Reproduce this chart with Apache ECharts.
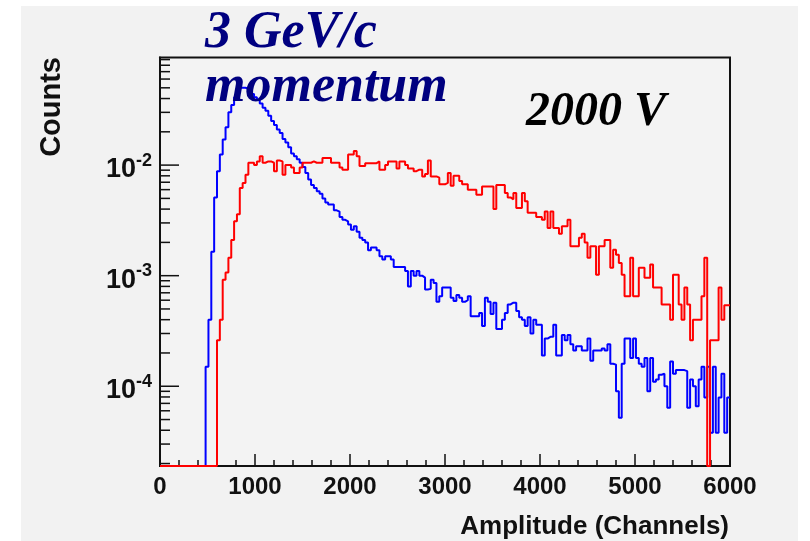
<!DOCTYPE html>
<html><head><meta charset="utf-8">
<script src="https://cdn.jsdelivr.net/npm/echarts@6/dist/echarts.min.js"></script>
<style>
html,body{margin:0;padding:0;background:#fff;}
#wrap{position:relative;width:810px;height:541px;overflow:hidden;background:#fff;}
#panel{position:absolute;left:21px;top:6px;width:777px;height:535px;background:#f2f2f2;}
#chart{position:absolute;left:0;top:0;width:810px;height:541px;}
</style></head><body>
<div id="wrap"><div id="panel"></div><div id="chart"></div></div>
<script>
// ---- data ----
const BIN_WIDTH = 30;            // channels per bin, 200 bins from 0 to 6000
const X_MIN = 0, X_MAX = 6000;
const Y_MIN = 1.9e-5, Y_MAX = 0.094;
const xTickLabels = ['0', '1000', '2000', '3000', '4000', '5000', '6000'];
const yTickValues = [1e-4, 1e-3, 1e-2];
const yTickExponents = ['-4', '-3', '-2'];

const blueCounts = [
  0,0,0,0,0,0,0,0,0,0,
  0,0,0,0,0,0,0.00015,0.0004,0.00165,0.0051,
  0.0088,0.0125,0.017,0.022,0.030,0.035,0.041,0.046,0.050,0.050,
  0.049,0.046,0.044,0.041,0.039,0.036,0.033,0.031,0.028,0.025,
  0.023,0.021,0.0195,0.0172,0.016,0.0145,0.0127,0.012,0.0113,0.0105,
  0.0096,0.0085,0.0074,0.0066,0.0062,0.0058,0.0055,0.0050,0.0046,0.0044,
  0.0044,0.0039,0.0038,0.0034,0.0032,0.0031,0.0029,0.0026,0.0028,0.0025,
  0.0022,0.0021,0.0020,0.0017,0.0018,0.0018,0.0017,0.0015,0.0014,0.0015,
  0.0015,0.0014,0.0012,0.0012,0.0012,0.0012,0.0011,0.0008,0.0011,0.0010,
  0.0011,0.0010,0.00096,0.00075,0.00076,0.00092,0.00086,0.00058,0.00065,0.00078,
  0.00078,0.00078,0.00063,0.00059,0.00067,0.00063,0.00058,0.0006,0.00065,0.00043,
  0.00043,0.00043,0.00046,0.00035,0.00063,0.00058,0.00045,0.00057,0.00033,0.00033,
  0.0004,0.00046,0.00055,0.00057,0.00057,0.00048,0.00042,0.0004,0.00035,0.00042,
  0.0003,0.0004,0.00036,0.00036,0.00019,0.00027,0.00028,0.00028,0.00036,0.00019,
  0.00019,0.00029,0.00026,0.00029,0.00024,0.00021,0.00023,0.00023,0.00021,0.00021,
  0.00027,0.00017,0.00021,0.00021,0.00021,0.00022,0.00021,0.00024,0.00016,0.000157,
  0.00009,0.000052,0.00016,0.00027,0.00027,0.00018,0.00027,0.00018,0.00016,0.00015,
  0.00018,0.00009,0.00018,0.00011,0.000115,0.000127,0.00013,0.0001,0.000064,0.000167,
  0.00013,0.00014,0.00014,0.00014,0.000137,0.000064,0.000115,0.0001,0.000066,0.000115,
  0.00015,0.000079,0.00015,0.000038,0.00015,0.000038,0.000079,0.00013,0.000038,0.000079
];

const redCounts = [
  0,0,0,0,0,0,0,0,0,0,
  0,0,0,0,0,0,0,0,0,0,
  0.00026,0.0004,0.00092,0.00107,0.00145,0.0021,0.0031,0.0036,0.0062,0.0069,
  0.0082,0.0105,0.0105,0.0100,0.0108,0.0120,0.0105,0.0108,0.0108,0.0105,
  0.0088,0.0110,0.0108,0.0082,0.0100,0.0100,0.0095,0.0085,0.0085,0.0095,
  0.0105,0.0105,0.0105,0.0108,0.0105,0.0105,0.0105,0.0116,0.0116,0.0116,
  0.0105,0.0105,0.0105,0.0095,0.0091,0.0091,0.0125,0.0125,0.0134,0.0120,
  0.0098,0.0098,0.0104,0.0104,0.0104,0.0104,0.0108,0.0091,0.0091,0.0100,
  0.0108,0.0108,0.0108,0.0093,0.0108,0.0108,0.0100,0.0093,0.0093,0.0088,
  0.0091,0.0091,0.0079,0.0083,0.0110,0.0079,0.0079,0.0077,0.0067,0.0067,
  0.0069,0.0085,0.0065,0.0080,0.0080,0.0072,0.0067,0.0067,0.0060,0.0060,
  0.0060,0.0054,0.0054,0.0064,0.0064,0.0064,0.0064,0.0040,0.0066,0.0066,
  0.0066,0.0056,0.0051,0.0049,0.0056,0.0041,0.0041,0.0056,0.0047,0.0037,
  0.0037,0.0037,0.0034,0.0034,0.0032,0.0038,0.0027,0.0038,0.0027,0.0027,
  0.0024,0.0028,0.0028,0.0032,0.00185,0.00185,0.00185,0.0022,0.0024,0.0020,
  0.00145,0.00185,0.00185,0.00102,0.00185,0.00185,0.0021,0.0021,0.00118,0.00172,
  0.00155,0.0013,0.00102,0.00065,0.00065,0.00145,0.00065,0.00065,0.00118,0.00118,
  0.00096,0.00096,0.00126,0.00078,0.00078,0.00078,0.00055,0.00055,0.00055,0.0004,
  0.00102,0.00102,0.00055,0.0004,0.00078,0.00055,0.00026,0.0004,0.0004,0.0004,
  0.00065,0.00145,0,0.00026,0.00026,0.00026,0.00078,0.0004,0.00054,0.00054
];

// ---- build ----
const SANS = '"Liberation Sans", Arial, Helvetica, sans-serif';
const SERIF = '"Liberation Serif", "Times New Roman", serif';

function histPoints(counts) {
  // empty bins sit on the bottom of the log frame, as ROOT draws them
  const pts = counts.map((v, i) => [i * BIN_WIDTH, v > 0 ? v : Y_MIN]);
  const last = counts[counts.length - 1];
  pts.push([counts.length * BIN_WIDTH, last > 0 ? last : Y_MIN]);
  return pts;
}

// y tick values (major decades + 2..9 minor)
const yTicks = [];
for (let e = -5; e <= -1; e++) {
  for (let m = 1; m <= 9; m++) {
    const v = m * Math.pow(10, e);
    if (v >= Y_MIN && v <= Y_MAX) yTicks.push([X_MIN, v, m === 1 ? 1 : 0]);
  }
}

const chart = echarts.init(document.getElementById('chart'), null, {renderer: 'canvas'});
chart.setOption({
  backgroundColor: 'transparent',
  animation: false,
  grid: {
    left: 160, right: 80, top: 57.5, bottom: 75,
    show: true, backgroundColor: '#f3f3f3', borderColor: '#111', borderWidth: 2
  },
  xAxis: {
    type: 'value', min: X_MIN, max: X_MAX, interval: 1000,
    axisLine: {show: true, onZero: false, lineStyle: {color: '#111', width: 2}},
    axisTick: {show: true, inside: true, length: 12, lineStyle: {color: '#111', width: 1.5}},
    minorTick: {show: true, splitNumber: 5, length: 6, lineStyle: {color: '#111', width: 1.5}},
    splitLine: {show: false},
    axisLabel: {
      margin: 9, color: '#111', fontFamily: SANS, fontWeight: 'bold', fontSize: 24,
      formatter: (v) => { const i = Math.round(v / 1000); return xTickLabels[i] !== undefined ? xTickLabels[i] : ''; }
    }
  },
  yAxis: {
    type: 'log', min: Y_MIN, max: Y_MAX, logBase: 10,
    axisLine: {show: true, lineStyle: {color: '#111', width: 2}},
    axisTick: {show: false},
    splitLine: {show: false},
    axisLabel: {
      margin: 8, showMinLabel: false, showMaxLabel: false,
      formatter: (v) => {
        const lg = Math.log10(v);
        const e = Math.round(lg);
        if (Math.abs(lg - e) > 1e-6) return '';
        const idx = yTickValues.findIndex(t => Math.abs(Math.log10(t) - e) < 1e-6);
        if (idx < 0) return '';
        return '{b|10}{s|' + yTickExponents[idx] + '}';
      },
      rich: {
        b: {fontFamily: SANS, fontWeight: 'bold', fontSize: 27, lineHeight: 27, color: '#111',
            padding: [9, 0, 0, 0]},
        s: {fontFamily: SANS, fontWeight: 'bold', fontSize: 18, lineHeight: 26, color: '#111',
            verticalAlign: 'top'}
      }
    }
  },
  series: [
    {
      type: 'custom', name: 'yticks', data: yTicks, clip: false, silent: true, z: 3,
      encode: {x: 0, y: 1},
      renderItem: (params, api) => {
        const p = api.coord([api.value(0), api.value(1)]);
        const len = api.value(2) === 1 ? 19 : 10;
        return {type: 'line', shape: {x1: p[0], y1: p[1], x2: p[0] + len, y2: p[1]},
                style: {stroke: '#111', lineWidth: 1.5}};
      }
    },
    {
      type: 'line', name: 'blue', data: histPoints(blueCounts), step: 'end',
      showSymbol: false, symbol: 'none', clip: true, z: 4,
      lineStyle: {color: '#0000ff', width: 2}
    },
    {
      type: 'line', name: 'red', data: histPoints(redCounts), step: 'end',
      showSymbol: false, symbol: 'none', clip: true, z: 5,
      lineStyle: {color: '#ff0000', width: 2}
    }
  ],
  graphic: [
    {type: 'text', x: 205, y: 33.5, z: 10, style: {text: '3 GeV/c', fill: '#000080',
      font: 'italic bold 52px ' + SERIF, textAlign: 'left', textVerticalAlign: 'middle'}},
    {type: 'text', x: 205, y: 88, z: 10, style: {text: 'momentum', fill: '#000080',
      font: 'italic bold 52px ' + SERIF, textAlign: 'left', textVerticalAlign: 'middle'}},
    {type: 'text', x: 526, y: 112.5, z: 10, style: {text: '2000 V', fill: '#000',
      font: 'italic bold 48px ' + SERIF, textAlign: 'left', textVerticalAlign: 'middle'}},
    {type: 'text', x: 729, y: 527, z: 10, style: {text: 'Amplitude (Channels)', fill: '#111',
      font: 'bold 26px ' + SANS, textAlign: 'right', textVerticalAlign: 'middle'}},
    {type: 'text', x: 52, y: 57, rotation: Math.PI / 2, z: 10, style: {text: 'Counts', fill: '#111',
      font: 'bold 29px ' + SANS, textAlign: 'right', textVerticalAlign: 'middle'}}
  ]
});
</script>
</body></html>
